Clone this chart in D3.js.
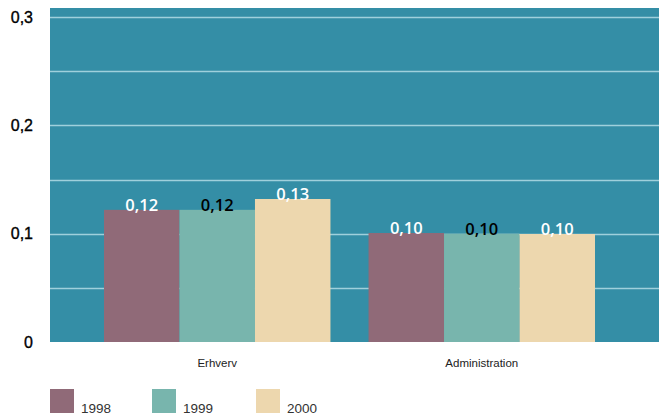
<!DOCTYPE html>
<html><head><meta charset="utf-8">
<script src="https://cdn.jsdelivr.net/npm/d3@7"></script>
<style>body{margin:0;background:#fff}svg{display:block}</style>
</head><body><svg id="c" width="659" height="417"></svg>
<script>
const categories = ["Erhverv", "Administration"];
const series = ["1998", "1999", "2000"];
const values = {
  "1998": [0.122, 0.1006],
  "1999": [0.122, 0.1],
  "2000": [0.132, 0.0997]
};
const labels = {
  "1998": ["0,12", "0,10"],
  "1999": ["0,12", "0,10"],
  "2000": ["0,13", "0,10"]
};
const yTicks = [0, 0.1, 0.2, 0.3];
const yTickLabels = ["0", "0,1", "0,2", "0,3"];
const gridValues = [0.05, 0.1, 0.15, 0.2, 0.25, 0.3];
const colors = ["#906A78", "#78B5AD", "#EDD7AE"];
const labelColors = ["#ffffff", "#000000", "#ffffff"];

(function () {
const svg = d3.select("#c");
const pL = 50, pR = 659, pT = 8, pB = 342;
const y = d3.scaleLinear().domain([0, 0.3]).range([pB, 17]);
const x0 = d3.scaleBand().domain(categories).range([104, 595]).paddingInner(0.144).paddingOuter(0);
const x1 = d3.scaleBand().domain(series).range([0, x0.bandwidth()]);

svg.append("rect").attr("x", pL).attr("y", pT).attr("width", pR - pL).attr("height", pB - pT).attr("fill", "#348EA6");

svg.append("g").selectAll("line").data(gridValues).join("line")
  .attr("x1", pL).attr("x2", pR)
  .attr("y1", d => Math.round(y(d)) + 0.5).attr("y2", d => Math.round(y(d)) + 0.5)
  .attr("stroke", "#9fd0dc").attr("stroke-width", 1.3);

const g = svg.append("g").selectAll("g").data(categories).join("g")
  .attr("transform", d => `translate(${x0(d)},0)`);
g.selectAll("rect").data((c, i) => series.map((s, j) => ({s, j, v: values[s][i]}))).join("rect")
  .attr("x", d => x1(d.s)).attr("width", x1.bandwidth())
  .attr("y", d => y(d.v)).attr("height", d => pB - y(d.v))
  .attr("fill", d => colors[d.j]);
g.selectAll("text").data((c, i) => series.map((s, j) => ({s, j, v: values[s][i], t: labels[s][i]}))).join("text")
  .attr("x", d => x1(d.s) + x1.bandwidth() / 2)
  .attr("y", d => y(d.v) + 1)
  .attr("text-anchor", "middle")
  .attr("font-family", "Open Sans, sans-serif").attr("font-weight", 600).attr("font-size", 16.5)
  .attr("fill", d => labelColors[d.j])
  .text(d => d.t);

svg.append("g").selectAll("text").data(yTicks).join("text")
  .attr("x", 33).attr("y", d => y(d)).attr("dy", "0.36em")
  .attr("text-anchor", "end")
  .attr("font-family", "Liberation Sans, Arial, sans-serif").attr("font-size", 16)
  .attr("fill", "#000").attr("stroke", "#000").attr("stroke-width", 0.35)
  .text((d, i) => yTickLabels[i]);

svg.append("g").selectAll("text").data(categories).join("text")
  .attr("x", d => x0(d) + x0.bandwidth() / 2).attr("y", 367)
  .attr("text-anchor", "middle")
  .attr("font-family", "Liberation Sans, Arial, sans-serif").attr("font-size", 11.5)
  .attr("fill", "#222")
  .text(d => d);

const legX = [50, 152, 256];
const lg = svg.append("g").selectAll("g").data(series).join("g")
  .attr("transform", (d, i) => `translate(${legX[i]},389)`);
lg.append("rect").attr("width", 24).attr("height", 24).attr("fill", (d, i) => colors[i]);
lg.append("text").attr("x", 31).attr("y", 24)
  .attr("font-family", "Liberation Sans, Arial, sans-serif").attr("font-size", 13.5)
  .attr("fill", "#333").text(d => d);
})();
</script></body></html>
